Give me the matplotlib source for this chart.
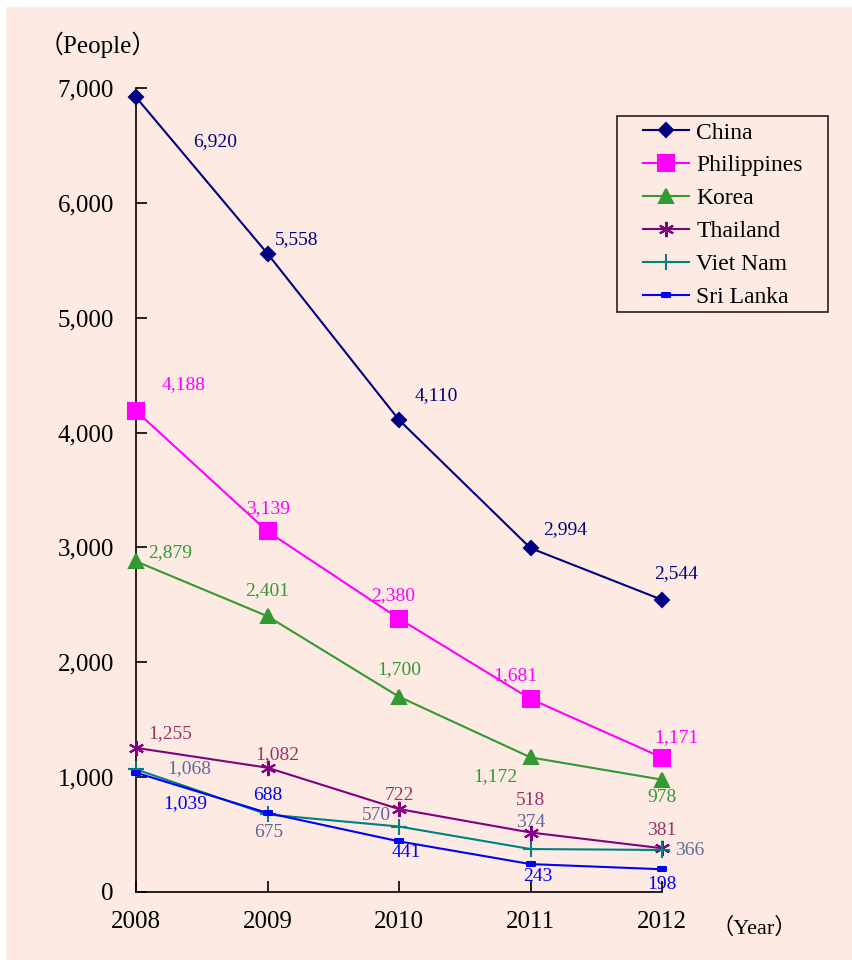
import numpy as np
import matplotlib.pyplot as plt
from matplotlib.patches import Rectangle
from matplotlib.path import Path

years = [2008, 2009, 2010, 2011, 2012]
countries = ['China', 'Philippines', 'Korea', 'Thailand', 'Viet Nam', 'Sri Lanka']

china = [6920, 5558, 4110, 2994, 2544]
philippines = [4188, 3139, 2380, 1681, 1171]
korea = [2879, 2401, 1700, 1172, 978]
thailand = [1255, 1082, 722, 518, 381]
vietnam = [1068, 675, 570, 374, 366]
srilanka = [1039, 688, 441, 243, 198]
series = [china, philippines, korea, thailand, vietnam, srilanka]

yticks = [0, 1000, 2000, 3000, 4000, 5000, 6000, 7000]

# styles
line_colors = ['#000080', '#ff00ff', '#339933', '#800080', '#008080', '#0000ff']
label_colors = ['#000080', '#ff00ff', '#339933', '#993366', '#666699', '#0000ff']
rect = Path([(-1, -0.45), (1, -0.45), (1, 0.45), (-1, 0.45), (-1, -0.45)],
            [Path.MOVETO, Path.LINETO, Path.LINETO, Path.LINETO, Path.CLOSEPOLY])
markers = ['D', 's', '^', (6, 2, 0), '+', rect]
msizes = [7, 11, 10, 11, 11, 6]
# label offsets in pixels (dx, dy), dy up positive
offsets = [
    [(79, -44), (29, 14), (37, 24), (35, 19), (14, 26)],
    [(48, 26), (1, 23), (-6, 23), (-15, 23), (14, 20)],
    [(34, 9), (0, 26), (0, 27), (-35, -19), (0, -18)],
    [(34, 14), (10, 13), (0, 14), (0, 32), (0, 18)],
    [(53, 1), (1, -18), (-23, 11), (0, 27), (28, -1)],
    [(49, -31), (0, 17), (7, -11), (7, -12), (0, -15)],
]

serif = ['Liberation Serif', 'Noto Sans CJK JP']
plt.rcParams['font.family'] = serif

bg = '#fdebe3'
fig = plt.figure(figsize=(8.53, 9.6), dpi=100, facecolor='white')
fig.patches.append(Rectangle((6 / 853, 0), 1, 1 - 7 / 960, transform=fig.transFigure,
                             facecolor=bg, edgecolor='none', zorder=-10))
ax = fig.add_axes([136 / 853, 68 / 960, 526 / 853, 804 / 960])
ax.patch.set_alpha(0)

for i, name in enumerate(countries):
    vals = series[i]
    ax.plot(years, vals, color=line_colors[i], lw=1.5, marker=markers[i],
            ms=msizes[i], mec=line_colors[i], mfc=line_colors[i], mew=1.5,
            label=name, clip_on=False, zorder=3)
    for j, v in enumerate(vals):
        dx, dy = offsets[i][j]
        ax.annotate(f'{v:,}', (years[j], v), xytext=(dx, dy), textcoords='offset pixels',
                    ha='center', va='center', fontsize=14, color=label_colors[i],
                    zorder=4)

ax.set_xlim(2008, 2012)
ax.set_ylim(0, 7000)
ax.set_xticks(years)
ax.set_xticklabels([str(y) for y in years])
ax.set_yticks(yticks)
ax.set_yticklabels([f'{t:,}' for t in yticks])
for s in ['top', 'right']:
    ax.spines[s].set_visible(False)
for s in ['left', 'bottom']:
    ax.spines[s].set_linewidth(1.2)
ax.tick_params(axis='y', direction='in', length=8, width=1.2, labelsize=18, pad=16)
ax.tick_params(axis='x', direction='in', length=8, width=1.2, labelsize=18, pad=14)

fig.text(98 / 853, 1 - 45 / 960, '（People）', fontsize=18, ha='center', va='center')
fig.text(754 / 853, 1 - 928 / 960, '（Year）', fontsize=16, ha='center', va='center')

# legend frame drawn separately
fig.patches.append(Rectangle((617 / 853, 1 - 312 / 960), 211 / 853, 196 / 960,
                             transform=fig.transFigure, facecolor='none',
                             edgecolor='#222222', lw=1.2, zorder=5))
leg = fig.legend(loc='upper left', bbox_to_anchor=(643 / 853, 1 - 122 / 960),
                 fontsize=17, frameon=False, handlelength=1.95, borderpad=0,
                 labelspacing=0.48, handletextpad=0.3, borderaxespad=0)

fig.savefig('out.png', dpi=100, facecolor=fig.get_facecolor())
